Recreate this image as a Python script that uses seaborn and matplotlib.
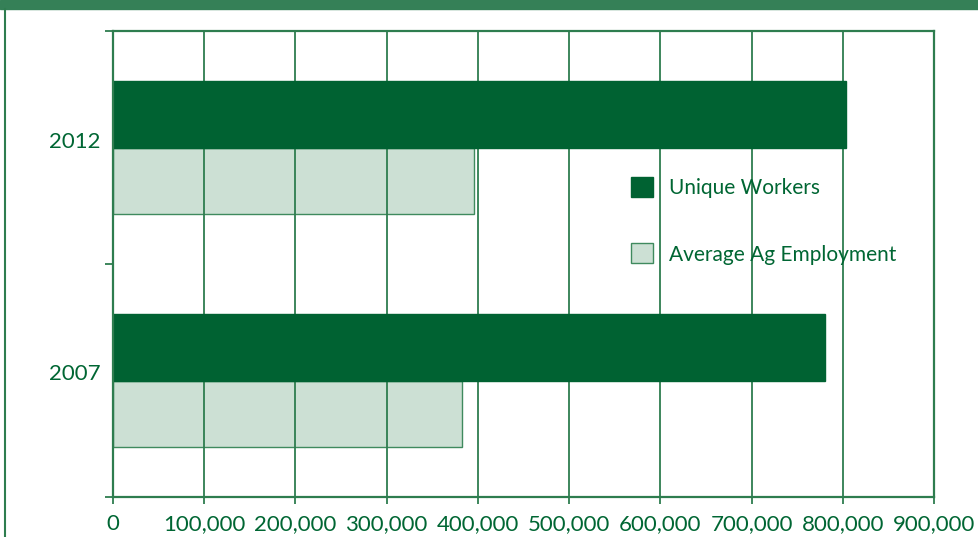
import pandas as pd
import seaborn as sns
import matplotlib.pyplot as plt
from matplotlib.patches import Patch, Rectangle
from matplotlib.lines import Line2D
from matplotlib.ticker import FuncFormatter, FixedLocator

# Data
years = ["2012", "2007"]
series_names = ["Unique Workers", "Average Ag Employment"]
unique_workers = [804000, 781000]
avg_ag_employment = [396000, 383000]
x_ticks = [0, 100000, 200000, 300000, 400000, 500000, 600000, 700000, 800000, 900000]

dark = "#006232"
light = "#cce0d4"
line_green = "#2e7d4f"
text_green = "#006633"

df = pd.DataFrame({
    "year": years * 2,
    "series": [series_names[0]] * 2 + [series_names[1]] * 2,
    "value": unique_workers + avg_ag_employment,
})

sns.set_style("white")
plt.rcParams["font.family"] = ["Lato", "DejaVu Sans"]

fig = plt.figure(figsize=(9.79, 5.37), dpi=100)
ax = fig.add_axes([113 / 979, 1 - 497 / 537, 821 / 979, 466 / 537])

sns.barplot(data=df, x="value", y="year", hue="series", order=years,
            hue_order=series_names, palette=[dark, light], width=0.575,
            orient="h", ax=ax, legend=False, saturation=1)

# dark bars cover the grid, light bars sit under it
n = len(years)
for i, p in enumerate(ax.patches):
    if i < n:
        p.set_zorder(2)
        p.set_edgecolor(dark)
    else:
        p.set_zorder(1)
        p.set_edgecolor("#3f8a5e")
    p.set_linewidth(1)

ax.set_axisbelow("line")
ax.set_xlim(0, 900000)
ax.set_ylim(1.5, -0.5)
ax.xaxis.set_major_locator(FixedLocator(x_ticks))
ax.xaxis.set_major_formatter(FuncFormatter(lambda v, p: f"{int(v):,}"))
ax.grid(axis="x", color=line_green, linewidth=1.3)
ax.grid(axis="y", visible=False)

ax.yaxis.set_minor_locator(FixedLocator([-0.5, 0.5, 1.5]))
ax.tick_params(axis="y", which="major", length=0, pad=9, labelsize=16, labelcolor=text_green)
ax.tick_params(axis="y", which="minor", length=6, width=1.3, color=line_green, left=True)
ax.tick_params(axis="x", length=5, width=1.3, color=line_green, bottom=True,
               labelsize=16, labelcolor=text_green, pad=7)
for lbl in ax.get_yticklabels():
    lbl.set_verticalalignment("baseline")
ax.set_xlabel("")
ax.set_ylabel("")

for s in ["left", "bottom", "top", "right"]:
    ax.spines[s].set_color(line_green)
    ax.spines[s].set_linewidth(1.6)

handles = [Patch(facecolor=dark, edgecolor=dark), Patch(facecolor=light, edgecolor="#3f8a5e")]
ax.legend(handles, series_names, loc="upper left", bbox_to_anchor=(0.608, 0.728),
          frameon=False, fontsize=15, labelcolor=text_green,
          handlelength=1.05, handleheight=1.1, handletextpad=0.8, labelspacing=2.2)

# header band and left border
fig.add_artist(Rectangle((0, 1 - 9 / 537), 1, 9 / 537, transform=fig.transFigure,
                         color="#358057", zorder=0))
fig.add_artist(Line2D([5 / 979, 5 / 979], [0, 1 - 9 / 537], transform=fig.transFigure,
                      color=line_green, linewidth=1.5))

fig.savefig("out.png", dpi=100)
